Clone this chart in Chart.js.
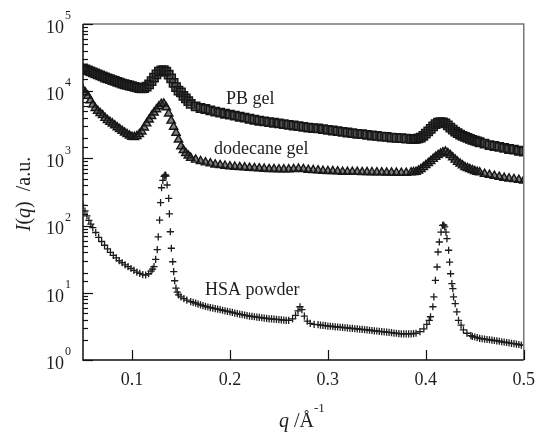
<!DOCTYPE html>
<html>
<head>
<meta charset="utf-8">
<script src="https://cdn.jsdelivr.net/npm/chart.js@4.4.1/dist/chart.umd.min.js"></script>
<style>
    html, body { margin: 0; padding: 0; background: #fff; }
</style>
</head>
<body>
<canvas id="chart" width="544" height="434"></canvas>
<script>
// q values shared by the two gel curves (finer around the peaks)
var gelQ = [
    0.0500, 0.0525, 0.0550, 0.0575, 0.0600, 0.0625, 0.0650, 0.0675, 0.0700, 0.0725,
    0.0750, 0.0775, 0.0800, 0.0825, 0.0850, 0.0875, 0.0900, 0.0925, 0.0950, 0.0975,
    0.1000, 0.1025, 0.1050, 0.1075, 0.1100, 0.1125, 0.1150, 0.1175, 0.1200, 0.1225,
    0.1250, 0.1275, 0.1300, 0.1325, 0.1350, 0.1375, 0.1400, 0.1425, 0.1450, 0.1475,
    0.1500, 0.1525, 0.1550, 0.1575, 0.1600,
    0.165, 0.170, 0.175, 0.180, 0.185, 0.190, 0.195, 0.200, 0.205, 0.210,
    0.215, 0.220, 0.225, 0.230, 0.235, 0.240, 0.245, 0.250, 0.255, 0.260,
    0.265, 0.270, 0.275, 0.280, 0.285, 0.290, 0.295, 0.300, 0.305, 0.310,
    0.315, 0.320, 0.325, 0.330, 0.335, 0.340, 0.345, 0.350, 0.355, 0.360,
    0.365, 0.370, 0.375, 0.380, 0.385,
    0.3875, 0.3900, 0.3925, 0.3950, 0.3975, 0.4000, 0.4025, 0.4050, 0.4075, 0.4100,
    0.4125, 0.4150, 0.4175, 0.4200, 0.4225, 0.4250, 0.4275, 0.4300, 0.4325, 0.4350,
    0.4375, 0.4400, 0.4425, 0.4450, 0.4475, 0.4500, 0.4525, 0.4550,
    0.460, 0.465, 0.470, 0.475, 0.480, 0.485, 0.490, 0.495, 0.500
];
var pbGel = [
    21900, 21100, 20400, 19700, 19000, 18400, 17800, 17200, 16600, 16000,
    15500, 15100, 14600, 14200, 13800, 13400, 13000, 12700, 12400, 12150,
    11900, 11600, 11400, 11150, 11000, 11100, 11700, 12600, 14100, 15900,
    17800, 19500, 20400, 20600, 19500, 17600, 15500, 13300, 11500, 10200,
    9600, 8500, 7800, 7100, 6460,
    5960, 5620, 5430, 5190, 4950, 4790, 4620, 4470, 4320, 4170,
    4030, 3890, 3760, 3630, 3550, 3470, 3390, 3310, 3240, 3160,
    3090, 3020, 2950, 2880, 2820, 2790, 2720, 2660, 2600, 2540,
    2480, 2430, 2370, 2320, 2290, 2240, 2190, 2160, 2110, 2090,
    2040, 2020, 2000, 1970, 1950,
    1940, 1950, 1980, 2040, 2170, 2340, 2530, 2750, 2990, 3240,
    3400, 3470, 3440, 3310, 3100, 2880, 2680, 2510, 2370, 2260,
    2170, 2090, 2020, 1950, 1890, 1840, 1790, 1740,
    1660, 1580, 1530, 1480, 1430, 1380, 1350, 1300, 1260
];
var dodecaneGel = [
    10500, 9500, 8500, 7300, 6300, 5600, 5100, 4700, 4400, 4000,
    3700, 3480, 3300, 3100, 2900, 2730, 2570, 2420, 2290, 2180,
    2090, 2080, 2140, 2290, 2510, 2880, 3310, 3780, 4270, 4800,
    5370, 5950, 6460, 6500, 5750, 4650, 3630, 2950, 2400, 1900,
    1510, 1330, 1200, 1100, 1020,
    955, 910, 870, 840, 810, 794, 776, 760, 750, 741,
    733, 724, 716, 708, 700, 692, 692, 684, 684, 684,
    692, 700, 692, 676, 668, 661, 653, 646, 646, 638,
    631, 631, 631, 628, 625, 624, 621, 617, 617, 614,
    612, 611, 610, 610, 617,
    622, 631, 655, 692, 740, 794, 850, 912, 980, 1050,
    1115, 1175, 1230, 1260, 1200, 1120, 1035, 955, 890, 832,
    785, 741, 715, 692, 668, 646, 630, 617,
    589, 569, 550, 531, 513, 501, 490, 479, 468
];
// HSA powder: finer steps over the sharp peaks
var hsaQ = [
    0.050, 0.052, 0.054, 0.056, 0.058, 0.060, 0.063, 0.066, 0.069, 0.072,
    0.075, 0.078, 0.081, 0.084, 0.087, 0.090, 0.093, 0.096, 0.099, 0.102,
    0.105, 0.108, 0.111, 0.114, 0.117, 0.1195, 0.121, 0.1225, 0.1242, 0.1258,
    0.1268, 0.1282, 0.1292, 0.1302, 0.1315, 0.1328, 0.1336, 0.1342, 0.1348, 0.1359,
    0.1375, 0.1382, 0.1392, 0.1402, 0.1416, 0.1426, 0.1436, 0.1449, 0.1462, 0.1476,
    0.150, 0.153, 0.156, 0.160, 0.1625, 0.165, 0.1675, 0.170, 0.1725, 0.175,
    0.1775, 0.180, 0.1825, 0.185, 0.1875, 0.190, 0.1925, 0.195, 0.1975, 0.200,
    0.2025, 0.205, 0.2075, 0.210, 0.2125, 0.215, 0.2175, 0.220, 0.2225, 0.225,
    0.2275, 0.230, 0.2325, 0.235, 0.2375, 0.240, 0.2425, 0.245, 0.2475, 0.250,
    0.2525, 0.255, 0.2575, 0.260, 0.264, 0.267, 0.2695, 0.2715, 0.2735, 0.276,
    0.279, 0.282, 0.286, 0.290, 0.2925, 0.295, 0.2975, 0.300, 0.3025, 0.305,
    0.3075, 0.310, 0.3125, 0.315, 0.3175, 0.320, 0.3225, 0.325, 0.3275, 0.330,
    0.3325, 0.335, 0.3375, 0.340, 0.3425, 0.345, 0.3475, 0.350, 0.3525, 0.355,
    0.3575, 0.360, 0.3625, 0.365, 0.3675, 0.370, 0.3725, 0.375, 0.3775, 0.380,
    0.3825, 0.385, 0.3875, 0.390, 0.394, 0.398, 0.401, 0.4035, 0.4048, 0.4072,
    0.4082, 0.4098, 0.4115, 0.4125, 0.4138, 0.4155, 0.4172, 0.4183, 0.4193, 0.4206,
    0.4216, 0.4233, 0.4243, 0.4253, 0.4266, 0.4276, 0.4283, 0.4300, 0.4317, 0.4334,
    0.436, 0.4384, 0.442, 0.446, 0.4475, 0.450, 0.4525, 0.455, 0.4575, 0.460,
    0.4625, 0.465, 0.4675, 0.470, 0.4725, 0.475, 0.4775, 0.480, 0.4825, 0.485,
    0.4875, 0.490, 0.4925, 0.495, 0.4975, 0.500
];
var hsaPowder = [
    200, 165, 140, 120, 105, 93, 79, 67, 58, 51,
    45, 40, 36, 33, 30, 28, 26, 24.5, 23, 21.5,
    20.3, 19.4, 18.7, 18.4, 19.2, 21, 22.5, 24.5, 31.5, 44,
    68, 121, 219, 366, 470, 540, 560, 566, 545, 402,
    255, 149, 81, 46, 29, 20.6, 15.1, 11.7, 10.2, 9.3,
    8.7, 8.2, 7.8, 7.4, 7.2, 7.0, 6.8, 6.6, 6.45, 6.3,
    6.15, 6.0, 5.9, 5.8, 5.7, 5.6, 5.5, 5.4, 5.3, 5.2,
    5.1, 5.0, 4.9, 4.8, 4.72, 4.65, 4.58, 4.5, 4.45, 4.4,
    4.35, 4.3, 4.25, 4.2, 4.15, 4.1, 4.08, 4.05, 4.02, 4.0,
    3.96, 3.92, 3.9, 3.9, 4.1, 4.6, 5.4, 6.2, 5.6, 4.5,
    3.8, 3.5, 3.4, 3.35, 3.31, 3.28, 3.24, 3.2, 3.18, 3.15,
    3.12, 3.1, 3.07, 3.05, 3.02, 3.0, 2.97, 2.95, 2.92, 2.9,
    2.87, 2.85, 2.82, 2.8, 2.77, 2.75, 2.72, 2.7, 2.67, 2.65,
    2.62, 2.6, 2.57, 2.55, 2.52, 2.5, 2.47, 2.45, 2.45, 2.45,
    2.45, 2.45, 2.47, 2.5, 2.65, 2.9, 3.4, 3.9, 4.4, 6.2,
    8.7, 15.3, 24.2, 40.5, 57, 80, 101, 102, 96, 80,
    64, 43, 28.7, 19.2, 13.7, 11.5, 8.7, 6.9, 5.2, 3.9,
    3.3, 2.8, 2.5, 2.3, 2.25, 2.2, 2.15, 2.1, 2.07, 2.05,
    2.02, 2.0, 1.97, 1.95, 1.92, 1.9, 1.87, 1.85, 1.82, 1.8,
    1.77, 1.75, 1.72, 1.7, 1.67, 1.65
];
var xTicks = [0.1, 0.2, 0.3, 0.4, 0.5];
var curveNames = ['PB gel', 'dodecane gel', 'HSA powder'];

var serif = 'Liberation Serif';
var ink = '#1e1e1e';

function toPoints(qs, vals) {
    var pts = [];
    for (var i = 0; i < qs.length; i++) {
        pts.push({ x: qs[i], y: vals[i] });
    }
    return pts;
}

function isDecade(v) {
    var e = Math.log10(v);
    return Math.abs(e - Math.round(e)) < 1e-9;
}

// draws a run of text pieces with their own fonts, left to right
function drawPieces(ctx, pieces, x, y) {
    for (var i = 0; i < pieces.length; i++) {
        var p = pieces[i];
        ctx.font = p.font;
        ctx.fillText(p.text, x, y + (p.dy || 0));
        x += ctx.measureText(p.text).width;
    }
}

function piecesWidth(ctx, pieces) {
    var w = 0;
    for (var i = 0; i < pieces.length; i++) {
        ctx.font = pieces[i].font;
        w += ctx.measureText(pieces[i].text).width;
    }
    return w;
}

var framePlugin = {
    id: 'frame',
    afterDraw: function (chart) {
        var ctx = chart.ctx;
        var a = chart.chartArea;
        var xs = chart.scales.x;
        var ys = chart.scales.y;
        ctx.save();

        // frame: top and right lighter, axes darker
        ctx.lineWidth = 1.5;
        ctx.strokeStyle = '#777';
        ctx.beginPath();
        ctx.moveTo(a.left, a.top);
        ctx.lineTo(a.right, a.top);
        ctx.lineTo(a.right, a.bottom);
        ctx.stroke();
        ctx.strokeStyle = '#111';
        ctx.beginPath();
        ctx.moveTo(a.left, a.top);
        ctx.lineTo(a.left, a.bottom);
        ctx.lineTo(a.right, a.bottom);
        ctx.stroke();

        // inward ticks on the log axis
        ctx.lineWidth = 1.2;
        ys.ticks.forEach(function (t) {
            var y = Math.round(ys.getPixelForValue(t.value)) + 0.5;
            var len = isDecade(t.value) ? 10 : 5;
            ctx.beginPath();
            ctx.moveTo(a.left, y);
            ctx.lineTo(a.left + len, y);
            ctx.stroke();
        });
        // inward ticks on q axis
        xs.ticks.forEach(function (t) {
            var x = Math.round(xs.getPixelForValue(t.value)) + 0.5;
            ctx.beginPath();
            ctx.moveTo(x, a.bottom);
            ctx.lineTo(x, a.bottom - 10);
            ctx.stroke();
        });

        // decade labels 10^n
        ctx.fillStyle = ink;
        ctx.textBaseline = 'middle';
        ys.ticks.forEach(function (t) {
            if (!isDecade(t.value)) return;
            var y = ys.getPixelForValue(t.value);
            var n = Math.round(Math.log10(t.value));
            ctx.textAlign = 'right';
            ctx.font = '18px "' + serif + '"';
            ctx.fillText('10', a.left - 19, y + 4);
            ctx.textAlign = 'left';
            ctx.font = '12px "' + serif + '"';
            ctx.fillText(String(n), a.left - 18, y - 8);
        });

        // curve names
        ctx.textAlign = 'left';
        ctx.textBaseline = 'alphabetic';
        ctx.font = '18px "' + serif + '"';
        ctx.fillText(curveNames[0], 226, 104);
        ctx.fillText(curveNames[1], 214, 154);
        ctx.fillText(curveNames[2], 205, 295);

        // x title: q /Å^-1
        var xt = [
            { text: 'q', font: 'italic 20px "' + serif + '"' },
            { text: ' /\u00C5', font: '20px "' + serif + '"' },
            { text: '-1', font: '13px "' + serif + '"', dy: -15 }
        ];
        drawPieces(ctx, xt, 279, 427);

        // y title: I(q) /a.u.
        var yt = [
            { text: 'I', font: 'italic 20px "' + serif + '"' },
            { text: '(', font: '20px "' + serif + '"' },
            { text: 'q', font: 'italic 20px "' + serif + '"' },
            { text: ')  /a.u.', font: '20px "' + serif + '"' }
        ];
        ctx.translate(25, 194);
        ctx.rotate(-Math.PI / 2);
        ctx.textBaseline = 'middle';
        drawPieces(ctx, yt, -piecesWidth(ctx, yt) / 2, 0);

        ctx.restore();
    }
};

var chart = new Chart(document.getElementById('chart'), {
    type: 'scatter',
    data: {
        datasets: [{
            label: curveNames[0],
            data: toPoints(gelQ, pbGel),
            pointStyle: 'rect',
            pointRadius: 5.8,
            borderWidth: 1.6,
            borderColor: '#161616',
            backgroundColor: 'rgba(40,40,40,0.55)'
        }, {
            label: curveNames[1],
            data: toPoints(gelQ, dodecaneGel),
            pointStyle: 'triangle',
            pointRadius: 4.8,
            borderWidth: 1.4,
            borderColor: '#161616',
            backgroundColor: 'rgba(40,40,40,0.6)'
        }, {
            label: curveNames[2],
            data: toPoints(hsaQ, hsaPowder),
            pointStyle: 'cross',
            pointRadius: 3.6,
            borderWidth: 1.3,
            borderColor: '#1c1c1c',
            backgroundColor: '#1c1c1c'
        }]
    },
    options: {
        responsive: false,
        animation: false,
        layout: { padding: { left: 0, right: 14, top: 24, bottom: 0 } },
        plugins: {
            legend: { display: false },
            tooltip: { enabled: false }
        },
        scales: {
            x: {
                type: 'linear',
                min: 0.05,
                max: 0.5,
                grid: { display: false, drawTicks: false },
                border: { display: false },
                afterBuildTicks: function (scale) {
                    scale.ticks = xTicks.map(function (v) { return { value: v }; });
                },
                afterFit: function (scale) { scale.height = 74; },
                ticks: {
                    padding: 9,
                    color: ink,
                    font: { family: serif, size: 18 },
                    maxRotation: 0,
                    callback: function (v) { return Number(v).toFixed(1); }
                }
            },
            y: {
                type: 'logarithmic',
                min: 1,
                max: 100000,
                grid: { display: false, drawTicks: false },
                border: { display: false },
                afterFit: function (scale) { scale.width = 83; },
                ticks: { display: false, autoSkip: false }
            }
        }
    },
    plugins: [framePlugin]
});
</script>
</body>
</html>
